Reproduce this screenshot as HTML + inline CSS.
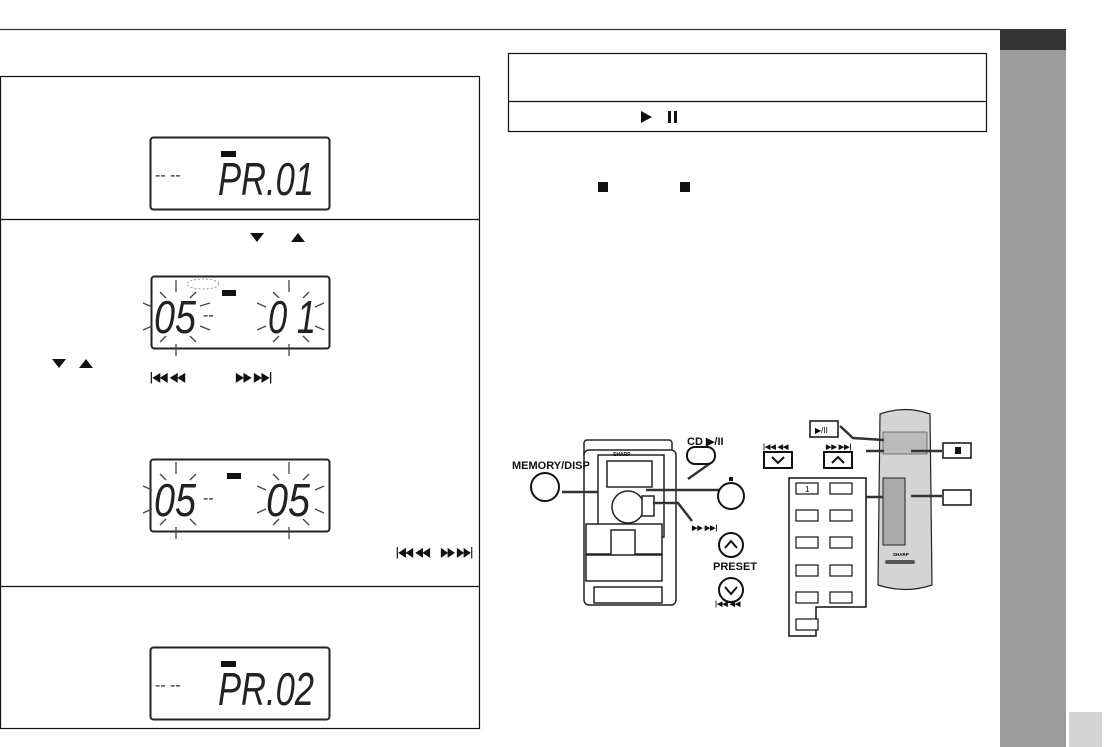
<!DOCTYPE html>
<html><head><meta charset="utf-8"><style>
html,body{margin:0;padding:0;background:#fff;}
svg{display:block;font-family:"Liberation Sans",sans-serif;}
.seg{font-family:"Liberation Sans",sans-serif;font-size:46px;font-style:italic;fill:#222;}
</style></head><body>
<svg width="1105" height="747" viewBox="0 0 1105 747" xmlns="http://www.w3.org/2000/svg">
<line x1="0" y1="29.5" x2="1000" y2="29.5" stroke="#333" stroke-width="1.2"/>
<rect x="1000" y="29" width="66" height="718" fill="#9c9c9c"/>
<rect x="1000" y="29" width="66" height="21" fill="#333"/>
<rect x="1069" y="712" width="33" height="35" fill="#d4d4d4"/>

<rect x="0.5" y="76.5" width="479" height="652" fill="none" stroke="#111" stroke-width="1.2"/>
<line x1="0" y1="219.5" x2="480" y2="219.5" stroke="#111" stroke-width="1.2"/>
<line x1="0" y1="586.5" x2="480" y2="586.5" stroke="#111" stroke-width="1.2"/>

<rect x="508.5" y="53.5" width="478" height="78" fill="none" stroke="#111" stroke-width="1.2"/>
<line x1="508" y1="101.5" x2="987" y2="101.5" stroke="#111" stroke-width="1.2"/>
<polygon points="641,111 641,123 652,117" fill="#111"/>
<rect x="668" y="111" width="3" height="12" fill="#111"/><rect x="674" y="111" width="3" height="12" fill="#111"/>
<rect x="598" y="182" width="10" height="10" fill="#111"/>
<rect x="680" y="182" width="10" height="10" fill="#111"/>

<polygon points="250,233 264,233 257,242" fill="#111"/>
<polygon points="291,242 305,242 298,233" fill="#111"/>
<polygon points="52,359 66,359 59,368" fill="#111"/>
<polygon points="79,368 93,368 86,359" fill="#111"/>
<text x="150" y="381" font-size="12" font-weight="bold" fill="#111" textLength="35" lengthAdjust="spacingAndGlyphs">|◀◀ ◀◀</text>
<text x="236" y="381" font-size="12" font-weight="bold" fill="#111" textLength="36" lengthAdjust="spacingAndGlyphs">▶▶ ▶▶|</text>
<text x="396" y="556" font-size="12" font-weight="bold" fill="#111" textLength="34" lengthAdjust="spacingAndGlyphs">|◀◀ ◀◀</text>
<text x="441" y="556" font-size="12" font-weight="bold" fill="#111" textLength="32" lengthAdjust="spacingAndGlyphs">▶▶ ▶▶|</text>

<!-- LCD 1 -->
<rect x="150.5" y="137.5" width="179" height="72" rx="3" fill="#fff" stroke="#222" stroke-width="2"/>
<rect x="221" y="151" width="15" height="6" fill="#111"/>
<text x="155" y="180" font-size="16" fill="#222">-- --</text>
<text x="218" y="195" class="seg" textLength="96" lengthAdjust="spacingAndGlyphs">PR.01</text>

<!-- LCD 2 -->
<rect x="151.5" y="276.5" width="178" height="72" rx="3" fill="#fff" stroke="#222" stroke-width="2"/>
<rect x="222" y="290" width="14" height="6" fill="#111"/>
<text x="154" y="333" class="seg" textLength="42" lengthAdjust="spacingAndGlyphs">05</text>
<text x="203" y="320" font-size="16" fill="#222">--</text>
<text x="268" y="333" class="seg" textLength="48" lengthAdjust="spacingAndGlyphs">0 1</text>
<g stroke="#444" stroke-width="1.3">
<line x1="176" y1="280" x2="176" y2="292"/><line x1="176" y1="344" x2="176" y2="356"/>
<line x1="289" y1="280" x2="289" y2="292"/><line x1="289" y1="344" x2="289" y2="356"/>
<line x1="143" y1="303" x2="152" y2="307"/><line x1="143" y1="330" x2="152" y2="326"/>
<line x1="160" y1="292" x2="166" y2="298"/><line x1="196" y1="292" x2="190" y2="298"/>
<line x1="160" y1="342" x2="166" y2="336"/><line x1="196" y1="342" x2="190" y2="336"/>
<line x1="273" y1="292" x2="279" y2="298"/><line x1="309" y1="292" x2="303" y2="298"/>
<line x1="273" y1="342" x2="279" y2="336"/><line x1="309" y1="342" x2="303" y2="336"/>
<line x1="257" y1="303" x2="266" y2="307"/><line x1="315" y1="307" x2="324" y2="303"/>
<line x1="257" y1="330" x2="266" y2="326"/><line x1="315" y1="326" x2="324" y2="330"/>
<line x1="200" y1="306" x2="210" y2="303"/><line x1="200" y1="326" x2="210" y2="330"/>
</g>
<ellipse cx="203" cy="284" rx="16" ry="5" fill="none" stroke="#999" stroke-dasharray="2,2"/>

<!-- LCD 3 -->
<rect x="150.5" y="459.5" width="179" height="72" rx="3" fill="#fff" stroke="#222" stroke-width="2"/>
<rect x="227" y="473" width="14" height="6" fill="#111"/>
<text x="154" y="516" class="seg" textLength="42" lengthAdjust="spacingAndGlyphs">05</text>
<text x="203" y="503" font-size="16" fill="#222">--</text>
<text x="266" y="516" class="seg" textLength="44" lengthAdjust="spacingAndGlyphs">05</text>
<g stroke="#444" stroke-width="1.3">
<line x1="176" y1="462" x2="176" y2="474"/><line x1="176" y1="527" x2="176" y2="539"/>
<line x1="289" y1="462" x2="289" y2="474"/><line x1="289" y1="527" x2="289" y2="539"/>
<line x1="143" y1="486" x2="152" y2="490"/><line x1="143" y1="513" x2="152" y2="509"/>
<line x1="160" y1="474" x2="166" y2="480"/><line x1="196" y1="474" x2="190" y2="480"/>
<line x1="160" y1="525" x2="166" y2="519"/><line x1="196" y1="525" x2="190" y2="519"/>
<line x1="273" y1="474" x2="279" y2="480"/><line x1="309" y1="474" x2="303" y2="480"/>
<line x1="273" y1="525" x2="279" y2="519"/><line x1="309" y1="525" x2="303" y2="519"/>
<line x1="257" y1="486" x2="266" y2="490"/><line x1="315" y1="490" x2="324" y2="486"/>
<line x1="257" y1="513" x2="266" y2="509"/><line x1="315" y1="509" x2="324" y2="513"/>
</g>

<!-- LCD 4 -->
<rect x="150.5" y="647.5" width="179" height="72" rx="3" fill="#fff" stroke="#222" stroke-width="2"/>
<rect x="221" y="661" width="15" height="6" fill="#111"/>
<text x="155" y="690" font-size="16" fill="#222">-- --</text>
<text x="218" y="705" class="seg" textLength="96" lengthAdjust="spacingAndGlyphs">PR.02</text>

<!-- main unit -->
<g stroke="#222" fill="#fff" stroke-width="1.5">
<rect x="584" y="440" width="88" height="18" rx="3"/>
<rect x="584" y="450" width="92" height="155" rx="5"/>
<rect x="598" y="455" width="66" height="82"/>
<rect x="607" y="461" width="45" height="26"/>
<circle cx="628" cy="507" r="16"/>
<rect x="586" y="524" width="76" height="30"/>
<rect x="611" y="530" width="24" height="28"/>
<rect x="586" y="555" width="76" height="26"/>
<rect x="594" y="587" width="68" height="16"/>
<rect x="642" y="496" width="12" height="20"/>
</g>
<text x="613" y="456" font-size="5" font-weight="bold">SHARP</text>
<g stroke="#333" stroke-width="2.5" fill="none">
<line x1="562" y1="492" x2="598" y2="492"/>
<line x1="646" y1="490" x2="719" y2="490"/>
<polyline points="653,503 678,503 692,521"/>
<line x1="688" y1="479" x2="712" y2="462"/>
</g>
<text x="512" y="469" font-size="11" font-weight="bold" fill="#111">MEMORY/DISP</text>
<circle cx="545" cy="487" r="14" fill="#fff" stroke="#111" stroke-width="2"/>
<text x="687" y="445" font-size="11" font-weight="bold" fill="#111">CD ▶/II</text>
<rect x="687" y="447" width="28" height="17" rx="8" fill="#fff" stroke="#111" stroke-width="2"/>
<rect x="729" y="477" width="4" height="4" fill="#111"/>
<circle cx="731" cy="496" r="13" fill="#fff" stroke="#111" stroke-width="2"/>
<text x="692" y="530" font-size="7" font-weight="bold" fill="#111">▶▶ ▶▶|</text>
<circle cx="731" cy="545" r="12" fill="#fff" stroke="#111" stroke-width="2"/>
<polyline points="725,548 731,541 737,548" fill="none" stroke="#111" stroke-width="2"/>
<text x="713" y="570" font-size="11" font-weight="bold" fill="#111">PRESET</text>
<circle cx="731" cy="590" r="12" fill="#fff" stroke="#111" stroke-width="2"/>
<polyline points="725,587 731,594 737,587" fill="none" stroke="#111" stroke-width="2"/>
<text x="715" y="606" font-size="7" font-weight="bold" fill="#111">|◀◀ ◀◀</text>

<text x="763" y="449" font-size="7" font-weight="bold" fill="#111">|◀◀ ◀◀</text>
<rect x="764" y="452" width="28" height="16" fill="#fff" stroke="#111" stroke-width="2"/>
<polyline points="772,457 778,463 784,457" fill="none" stroke="#111" stroke-width="2"/>
<text x="826" y="449" font-size="7" font-weight="bold" fill="#111">▶▶ ▶▶|</text>
<rect x="824" y="452" width="28" height="16" fill="#fff" stroke="#111" stroke-width="2"/>
<polyline points="832,463 838,457 844,463" fill="none" stroke="#111" stroke-width="2"/>

<path d="M789,478 H866 V607 H816 V636 H789 Z" fill="#fff" stroke="#111" stroke-width="1.5"/>
<g fill="#fff" stroke="#111" stroke-width="1.2">
<rect x="796" y="483" width="22" height="11"/><rect x="830" y="483" width="22" height="11"/>
<rect x="796" y="510" width="22" height="11"/><rect x="830" y="510" width="22" height="11"/>
<rect x="796" y="537" width="22" height="11"/><rect x="830" y="537" width="22" height="11"/>
<rect x="796" y="565" width="22" height="11"/><rect x="830" y="565" width="22" height="11"/>
<rect x="796" y="592" width="22" height="11"/><rect x="830" y="592" width="22" height="11"/>
<rect x="796" y="619" width="22" height="11"/>
</g>
<text x="805" y="492" font-size="8">1</text>

<path d="M880,414 Q905,405 930,414 L932,585 Q906,594 878,585 Z" fill="#d4d4d4" stroke="#222" stroke-width="1.2"/>
<rect x="883" y="432" width="44" height="22" fill="#bbb" stroke="#333" stroke-width="0.6"/>
<rect x="883" y="478" width="22" height="67" fill="#aaa" stroke="#222" stroke-width="1"/>
<text x="893" y="556" font-size="4.5" font-weight="bold">SHARP</text>
<rect x="885" y="560" width="30" height="4" rx="2" fill="#555"/>
<rect x="810" y="421" width="28" height="16" fill="#fff" stroke="#111" stroke-width="1.5"/>
<text x="815" y="433" font-size="8">▶/II</text>
<rect x="943" y="443" width="28" height="15" fill="#fff" stroke="#111" stroke-width="1.5"/>
<rect x="955" y="447" width="6" height="7" fill="#111"/>
<rect x="943" y="490" width="28" height="15" fill="#fff" stroke="#111" stroke-width="1.5"/>
<g stroke="#333" stroke-width="2.5" fill="none">
<polyline points="840,426 853,438 884,440"/>
<line x1="866" y1="451" x2="884" y2="451"/>
<line x1="911" y1="451" x2="942" y2="451"/>
<line x1="866" y1="497" x2="883" y2="497"/>
<line x1="911" y1="496" x2="942" y2="496"/>
</g>
</svg>
</body></html>
